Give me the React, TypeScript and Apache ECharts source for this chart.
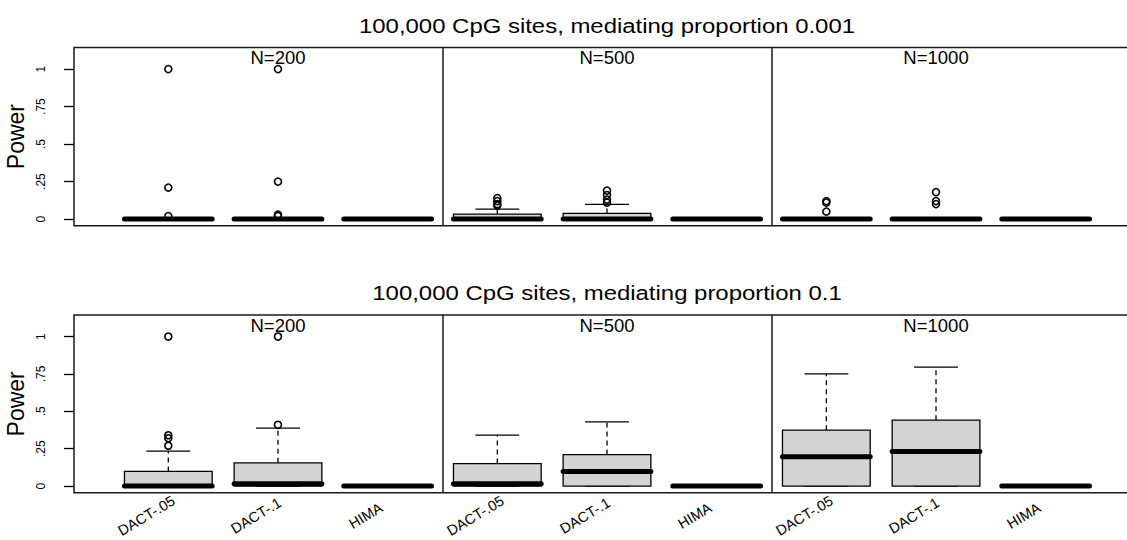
import React, { useEffect, useRef } from "react";
import * as echarts from "echarts";

// ---- data ----
const methods = ["DACT-.05", "DACT-.1", "HIMA"];
const positions = [1, 2, 3, 4, 5, 6, 7, 8, 9];
const sampleSizeLabels = ["N=200", "N=500", "N=1000"];
const sampleSizeCenters = [2, 5, 8];
const panelDividers = [3.5, 6.5];
const panelTitles = [
  "100,000 CpG sites, mediating proportion 0.001",
  "100,000 CpG sites, mediating proportion 0.1",
];
const yTickValues = [0, 0.25, 0.5, 0.75, 1];
const yTickLabels = ["0", ".25", ".5", ".75", "1"];
const nLabelY = 1.075;

// box statistics per position: [min(whisker), Q1, median, Q3, max(whisker)]
const boxesProp001 = [
  [0, 0, 0, 0, 0],
  [0, 0, 0, 0, 0],
  [0, 0, 0, 0, 0],
  [0, 0, 0, 0.033, 0.067],
  [0, 0, 0, 0.038, 0.098],
  [0, 0, 0, 0, 0],
  [0, 0, 0, 0, 0],
  [0, 0, 0, 0, 0],
  [0, 0, 0, 0, 0],
];
const outliersProp001 = [
  [1.0, 0.21, 0.02],
  [1.0, 0.25, 0.03, 0.02],
  [],
  [0.14, 0.12, 0.1, 0.09],
  [0.19, 0.16, 0.13, 0.11],
  [],
  [0.12, 0.11, 0.05],
  [0.18, 0.12, 0.1],
  [],
];

const boxesProp01 = [
  [0, 0, 0, 0.098, 0.234],
  [0, 0, 0.015, 0.156, 0.388],
  [0, 0, 0, 0, 0],
  [0, 0, 0.015, 0.151, 0.341],
  [0, 0, 0.098, 0.211, 0.43],
  [0, 0, 0, 0, 0],
  [0, 0, 0.196, 0.374, 0.751],
  [0, 0, 0.231, 0.441, 0.795],
  [0, 0, 0, 0, 0],
];
const outliersProp01 = [
  [1.0, 0.34, 0.32, 0.27],
  [1.0, 0.41],
  [],
  [],
  [],
  [],
  [],
  [],
  [],
];

const FONT = '"Liberation Sans", Arial, Helvetica, sans-serif';
// rotated method labels sit slightly left of each box centre
const LABEL_SHIFT = 0.2;

function labelFor(v: number): string {
  const i = yTickValues.findIndex((t) => Math.abs(t - v) < 1e-6);
  return i >= 0 ? yTickLabels[i] : "";
}

export default function App() {
  const ref = useRef<HTMLDivElement>(null);

  useEffect(() => {
    if (!ref.current) return;
    const chart = echarts.init(ref.current, undefined, { renderer: "svg" });

    const panels = [
      { boxes: boxesProp001, outliers: outliersProp001 },
      { boxes: boxesProp01, outliers: outliersProp01 },
    ];

    const grids = [
      { left: 74, top: 47.5, width: 1066, height: 178.2 },
      { left: 74, top: 315, width: 1066, height: 177.7 },
    ].map((g) => ({
      ...g,
      show: true,
      borderColor: "#1a1a1a",
      borderWidth: 1.5,
      backgroundColor: "transparent",
      containLabel: false,
      outerBoundsMode: "none",
    }));

    const xAxes = [0, 1].map((i) => ({
      gridIndex: i,
      type: "value",
      min: 0.14,
      max: 9.86,
      axisLine: { show: false },
      axisTick: { show: false },
      splitLine: { show: false },
      axisLabel:
        i === 1
          ? {
              show: true,
              customValues: positions.map((p) => p - LABEL_SHIFT),
              rotate: 31,
              margin: 23,
              align: "center",
              verticalAlign: "middle",
              fontSize: 14.5,
              fontFamily: FONT,
              color: "#000",
              formatter: (v: number) => methods[(Math.round(v + LABEL_SHIFT) - 1) % 3],
            }
          : { show: false },
    }));

    const yAxes = [0, 1].map((i) => ({
      gridIndex: i,
      type: "value",
      min: -0.044,
      max: 1.144,
      name: "Power",
      nameLocation: "middle",
      nameGap: 37,
      nameTextStyle: { fontSize: 23, fontFamily: FONT, color: "#000" },
      axisLine: { show: false },
      splitLine: { show: false },
      axisTick: {
        show: true,
        length: 10,
        customValues: yTickValues,
        lineStyle: { color: "#000", width: 1.3 },
      },
      axisLabel: {
        show: true,
        customValues: yTickValues,
        rotate: 90,
        margin: 27,
        fontSize: 12,
        fontFamily: FONT,
        color: "#000",
        formatter: (v: number) => labelFor(v),
      },
    }));

    const series: any[] = [];
    panels.forEach((p, i) => {
      const boxData = p.boxes.map((b, k) => [positions[k], ...b]);
      series.push({
        type: "custom",
        xAxisIndex: i,
        yAxisIndex: i,
        silent: true,
        clip: false,
        data: boxData,
        encode: { x: 0, y: [1, 2, 3, 4, 5] },
        renderItem: (params: any, api: any) => {
          const x = api.value(0);
          const lo = api.value(1);
          const q1 = api.value(2);
          const med = api.value(3);
          const q3 = api.value(4);
          const hi = api.value(5);
          const w = api.size([0.8, 0])[0];
          const cx = api.coord([x, lo])[0];
          const yLo = api.coord([x, lo])[1];
          const yQ1 = api.coord([x, q1])[1];
          const yMed = api.coord([x, med])[1];
          const yQ3 = api.coord([x, q3])[1];
          const yHi = api.coord([x, hi])[1];
          const thin = { stroke: "#000", lineWidth: 1.3 };
          const children: any[] = [
            {
              type: "line",
              shape: { x1: cx, y1: yQ3, x2: cx, y2: yHi },
              style: { ...thin, lineDash: [5, 4] },
            },
            {
              type: "line",
              shape: { x1: cx, y1: yQ1, x2: cx, y2: yLo },
              style: { ...thin, lineDash: [5, 4] },
            },
            {
              type: "line",
              shape: { x1: cx - w / 4, y1: yHi, x2: cx + w / 4, y2: yHi },
              style: thin,
            },
            {
              type: "line",
              shape: { x1: cx - w / 4, y1: yLo, x2: cx + w / 4, y2: yLo },
              style: thin,
            },
            {
              type: "rect",
              shape: { x: cx - w / 2, y: yQ3, width: w, height: yQ1 - yQ3 },
              style: { fill: "#d3d3d3", stroke: "#000", lineWidth: 1.3 },
            },
            {
              type: "line",
              shape: { x1: cx - w / 2, y1: yMed, x2: cx + w / 2, y2: yMed },
              style: { stroke: "#000", lineWidth: 5, lineCap: "round" },
            },
          ];
          return { type: "group", children };
        },
        z: 2,
      });

      const outData: number[][] = [];
      p.outliers.forEach((arr, k) => arr.forEach((v) => outData.push([positions[k], v])));
      series.push({
        type: "scatter",
        xAxisIndex: i,
        yAxisIndex: i,
        silent: true,
        symbol: "circle",
        symbolSize: 7,
        itemStyle: { color: "rgba(0,0,0,0)", borderColor: "#000", borderWidth: 1.6, opacity: 1 },
        data: outData,
        z: 3,
        markLine: {
          silent: true,
          symbol: "none",
          label: { show: false },
          lineStyle: { color: "#1a1a1a", width: 1.5, type: "solid" },
          data: panelDividers.map((d) => ({ xAxis: d })),
        },
      });

      series.push({
        type: "scatter",
        xAxisIndex: i,
        yAxisIndex: i,
        silent: true,
        symbolSize: 0,
        itemStyle: { opacity: 1, color: "#000" },
        data: sampleSizeCenters.map((c) => [c, nLabelY]),
        label: {
          show: true,
          position: "inside",
          fontSize: 18.5,
          fontFamily: FONT,
          color: "#000",
          opacity: 1,
          textBorderWidth: 0,
          textBorderColor: "transparent",
          formatter: (prm: any) => sampleSizeLabels[prm.dataIndex],
        },
        z: 4,
      });
    });

    const titleYs = [26, 293.5];
    const graphic = panelTitles.map((t, i) => ({
      type: "text",
      x: 607,
      y: titleYs[i],
      scaleX: 1.14,
      silent: true,
      style: {
        text: t,
        fontSize: 21,
        fontFamily: FONT,
        fill: "#000",
        align: "center",
        textAlign: "center",
        verticalAlign: "middle",
        textVerticalAlign: "middle",
      },
    }));

    chart.setOption({
      animation: false,
      backgroundColor: "#fff",
      grid: grids,
      xAxis: xAxes,
      yAxis: yAxes,
      series,
      graphic,
    } as any);

    return () => chart.dispose();
  }, []);

  return (
    <div
      ref={ref}
      style={{ position: "fixed", left: 0, top: 0, width: 1127, height: 540 }}
    />
  );
}
